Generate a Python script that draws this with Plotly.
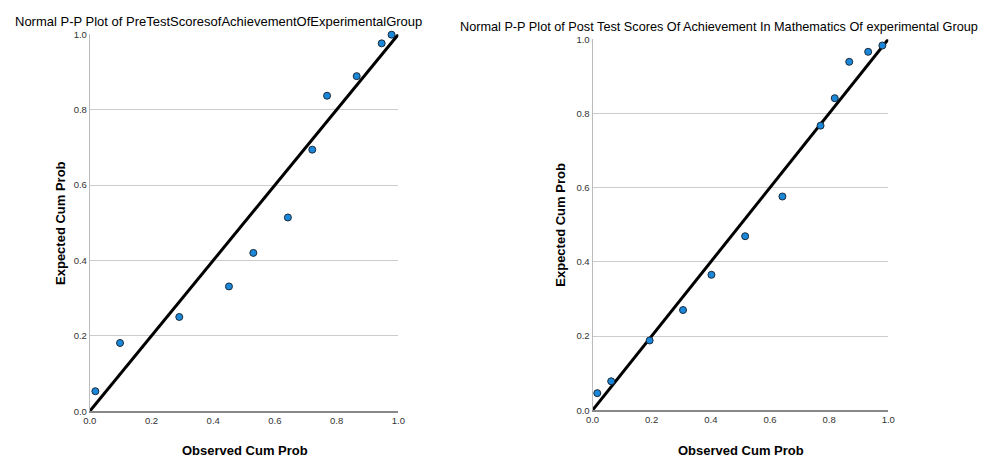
import plotly.graph_objects as go

# Left: Pre-test
pre_observed = [0.018, 0.098, 0.290, 0.451, 0.530, 0.642, 0.721, 0.769, 0.865, 0.946, 0.978]
pre_expected = [0.053, 0.181, 0.250, 0.331, 0.420, 0.514, 0.694, 0.837, 0.889, 0.976, 0.999]

# Right: Post-test
post_observed = [0.016, 0.063, 0.193, 0.306, 0.402, 0.516, 0.642, 0.771, 0.819, 0.868, 0.932, 0.980]
post_expected = [0.046, 0.078, 0.188, 0.270, 0.365, 0.469, 0.576, 0.767, 0.841, 0.939, 0.966, 0.983]

ref_line = [0.0, 1.0]
tick_vals = [0.0, 0.2, 0.4, 0.6, 0.8, 1.0]
tick_text = ["0.0", "0.2", "0.4", "0.6", "0.8", "1.0"]

title_left = "Normal P-P Plot of PreTestScoresofAchievementOfExperimentalGroup"
title_right = "Normal P-P Plot of Post Test Scores Of Achievement In Mathematics Of experimental Group"
x_title = "Observed Cum Prob"
y_title = "Expected Cum Prob"

FONT = "Liberation Sans, Arial, sans-serif"
MARKER = dict(size=7, color="#1a87d9", line=dict(color="#1b2a3a", width=1))

fig = go.Figure()

for i, (ox, ey) in enumerate([(pre_observed, pre_expected), (post_observed, post_expected)]):
    xa = "x" if i == 0 else "x2"
    ya = "y" if i == 0 else "y2"
    fig.add_trace(go.Scatter(x=ref_line, y=ref_line, mode="lines",
                             line=dict(color="black", width=3), xaxis=xa, yaxis=ya,
                             showlegend=False, hoverinfo="skip", cliponaxis=False))
    fig.add_trace(go.Scatter(x=ox, y=ey, mode="markers", marker=MARKER,
                             xaxis=xa, yaxis=ya, showlegend=False, cliponaxis=False))

axis_common = dict(range=[0, 1], tickvals=tick_vals, ticktext=tick_text,
                   tickfont=dict(family=FONT, size=9.5, color="#333333"),
                   zeroline=False, ticks="", fixedrange=True)

fig.update_layout(
    width=984, height=465,
    margin=dict(l=0, r=0, t=0, b=0),
    paper_bgcolor="white", plot_bgcolor="white",
    font=dict(family=FONT, color="black"),
    xaxis=dict(domain=[84/984, 397/984], anchor="y", showgrid=False,
               showline=True, linecolor="#888888", linewidth=1.5, **axis_common),
    yaxis=dict(domain=[1-415/465, 1-29/465], anchor="x", showgrid=True,
               gridcolor="#cccccc", gridwidth=1,
               showline=True, linecolor="#bbbbbb", linewidth=1, **axis_common),
    xaxis2=dict(domain=[594/984, 894/984], anchor="y2", showgrid=False,
                showline=True, linecolor="#888888", linewidth=1.5, **axis_common),
    yaxis2=dict(domain=[1-414/465, 1-34/465], anchor="x2", showgrid=True,
                gridcolor="#cccccc", gridwidth=1,
                showline=True, linecolor="#bbbbbb", linewidth=1, **axis_common),
)

ann = []
ann.append(dict(text=title_left, x=215/984, y=1-16/465, xref="paper", yref="paper",
                showarrow=False, font=dict(family=FONT, size=13, color="black"),
                xanchor="center", yanchor="middle"))
ann.append(dict(text=title_right, x=722/984, y=1-22/465, xref="paper", yref="paper",
                showarrow=False, font=dict(family=FONT, size=12.7, color="black"),
                xanchor="center", yanchor="middle"))
for cx, cy in [(241, 455), (745, 455)]:
    ann.append(dict(text="<b>" + x_title + "</b>", x=cx/984, y=1-cy/465, xref="paper", yref="paper",
                    showarrow=False, font=dict(family=FONT, size=13, color="black"),
                    xanchor="center", yanchor="middle"))
for cx, cy in [(55, 222), (562, 224)]:
    ann.append(dict(text="<b>" + y_title + "</b>", x=cx/984, y=1-cy/465, xref="paper", yref="paper",
                    showarrow=False, textangle=-90, font=dict(family=FONT, size=13, color="black"),
                    xanchor="center", yanchor="middle"))
fig.update_layout(annotations=ann)

fig.write_html("out.html")
